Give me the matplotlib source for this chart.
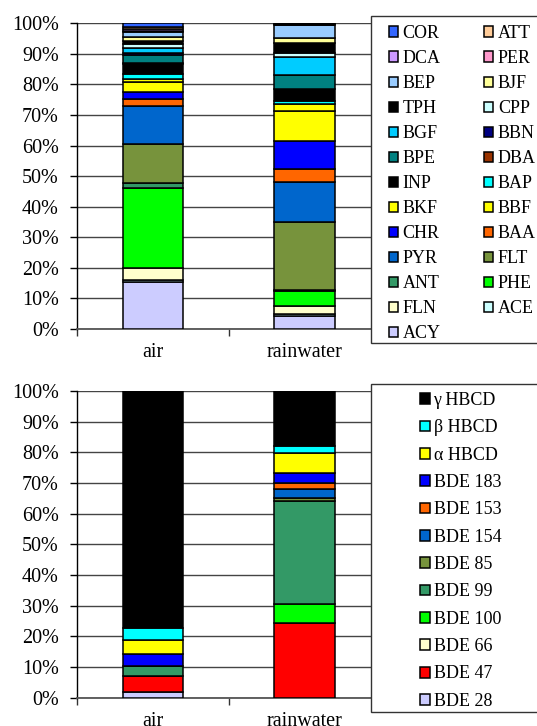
import matplotlib
matplotlib.use('Agg')
import matplotlib.pyplot as plt
from matplotlib.patches import Rectangle
from matplotlib.ticker import FixedLocator, FuncFormatter

plt.rcParams['font.family'] = ['Liberation Serif', 'DejaVu Serif']

categories = ['air', 'rainwater']

# PAH composition (%), stacked from bottom to top
pah_names = ['ACY', 'ACE', 'FLN', 'PHE', 'ANT', 'FLT', 'PYR', 'BAA', 'CHR', 'BBF',
             'BKF', 'BAP', 'INP', 'DBA', 'BPE', 'BBN', 'BGF', 'CPP', 'TPH', 'BJF',
             'BEP', 'PER', 'DCA', 'ATT', 'COR']
pah_air = [15.3, 0.8, 3.8, 26.3, 1.6, 12.6, 12.7, 2.0, 2.4, 3.3,
           0.9, 1.8, 3.3, 0.3, 2.5, 0.8, 1.6, 1.1, 1.0, 1.3,
           1.7, 0.5, 0.5, 0.6, 1.3]
pah_rain = [4.2, 0.8, 2.6, 4.8, 0.3, 22.4, 12.9, 4.2, 9.3, 9.8,
            2.2, 1.1, 3.8, 0.2, 4.4, 0.2, 5.9, 1.1, 3.5, 1.6,
            4.1, 0.2, 0.1, 0.1, 0.2]
pah_colors = ['#CCCCFF', '#CCFFFF', '#FFFFCC', '#00FF00', '#339966', '#77933C', '#0066CC',
              '#FF6600', '#0000FF', '#FFFF00', '#FFFF00', '#00FFFF', '#000000', '#993300',
              '#008080', '#000080', '#00CCFF', '#CCFFFF', '#000000', '#FFFF99', '#99CCFF',
              '#FF99CC', '#CC99FF', '#FFCC99', '#3366FF']

# BFR composition (%), stacked from bottom to top
bfr_names = ['BDE 28', 'BDE 47', 'BDE 66', 'BDE 100', 'BDE 99', 'BDE 85', 'BDE 154',
             'BDE 153', 'BDE 183', 'α HBCD', 'β HBCD', 'γ HBCD']
bfr_air = [1.7, 5.4, 0.0, 0.0, 3.3, 0.0, 0.0, 0.0, 4.0, 4.3, 4.1, 77.2]
bfr_rain = [0.0, 24.2, 0.0, 6.5, 33.5, 0.9, 2.8, 2.0, 3.5, 6.5, 2.2, 17.9]
bfr_colors = ['#CCCCFF', '#FF0000', '#FFFFCC', '#00FF00', '#339966', '#77933C', '#0066CC',
              '#FF6600', '#0000FF', '#FFFF00', '#00FFFF', '#000000']

yticks = list(range(0, 101, 10))

W, H = 537, 726
fig = plt.figure(figsize=(W / 100, H / 100), dpi=100)


def px_axes(x0, y0, x1, y1):
    return fig.add_axes([x0 / W, 1 - y1 / H, (x1 - x0) / W, (y1 - y0) / H])


def stacked(ax, names, a_vals, r_vals, colors):
    xs = list(range(len(categories)))
    bottoms = [0.0] * len(categories)
    handles = []
    for name, a, r, c in zip(names, a_vals, r_vals, colors):
        vals = [a, r]
        bc = ax.bar(xs, vals, width=0.4, bottom=bottoms, color=c,
                    edgecolor='black', linewidth=1.1, label=name, zorder=3)
        bottoms = [b + v for b, v in zip(bottoms, vals)]
        handles.append(bc)
    ax.set_xlim(-0.5, len(categories) - 0.5)
    ax.set_ylim(0, 100)
    ax.yaxis.set_major_locator(FixedLocator(yticks))
    ax.yaxis.set_major_formatter(FuncFormatter(lambda v, p: f'{int(round(v))}%'))
    ax.set_xticks([i - 0.5 for i in range(len(categories) + 1)])
    ax.set_xticklabels([])
    ax.set_xticks(xs, minor=True)
    ax.set_xticklabels(categories, minor=True)
    ax.tick_params(axis='x', which='minor', length=0, pad=10, labelsize=14.5)
    ax.tick_params(axis='x', which='major', length=5, width=1, direction='out', color='#333333')
    ax.tick_params(axis='y', length=5, width=1, direction='out', pad=8, labelsize=14.5)
    ax.grid(axis='y', color='#444444', linewidth=1.0, zorder=0)
    ax.set_axisbelow(True)
    for s in ['top', 'right']:
        ax.spines[s].set_visible(False)
    ax.spines['left'].set_color('black')
    ax.spines['left'].set_linewidth(1.0)
    ax.spines['bottom'].set_color('#555555')
    ax.spines['bottom'].set_linewidth(1.3)
    return handles


ax1 = px_axes(77, 23.3, 380.4, 329)
h1 = stacked(ax1, pah_names, pah_air, pah_rain, pah_colors)

ax2 = px_axes(77, 391, 380.4, 697.7)
h2 = stacked(ax2, bfr_names, bfr_air, bfr_rain, bfr_colors)

# legend frames
fig.patches.append(Rectangle((371 / W, 1 - 343 / H), 170 / W, (343 - 16) / H,
                             transform=fig.transFigure, facecolor='white',
                             edgecolor='#333333', linewidth=1.0, zorder=2))
fig.patches.append(Rectangle((371 / W, 1 - 712 / H), 170 / W, (712 - 384) / H,
                             transform=fig.transFigure, facecolor='white',
                             edgecolor='#333333', linewidth=1.0, zorder=2))

# top legend: row-wise order like the original (top series first)
rev_h = h1[::-1]
rev_l = pah_names[::-1]
order = list(range(0, len(rev_h), 2)) + list(range(1, len(rev_h), 2))
fig.legend([rev_h[i] for i in order], [rev_l[i] for i in order],
           loc='upper left', bbox_to_anchor=(389 / W, 1 - 25 / H),
           bbox_transform=fig.transFigure, ncol=2, frameon=False, fontsize=13,
           handlelength=0.5, handleheight=0.5, handletextpad=0.25,
           labelspacing=0.445, columnspacing=2.43, borderpad=0, borderaxespad=0)

fig.legend(h2[::-1], bfr_names[::-1],
           loc='upper left', bbox_to_anchor=(420 / W, 1 - 392 / H),
           bbox_transform=fig.transFigure, ncol=1, frameon=False, fontsize=13,
           handlelength=0.55, handleheight=0.55, handletextpad=0.2,
           labelspacing=0.573, borderpad=0, borderaxespad=0)

fig.savefig('out.png', dpi=100)
